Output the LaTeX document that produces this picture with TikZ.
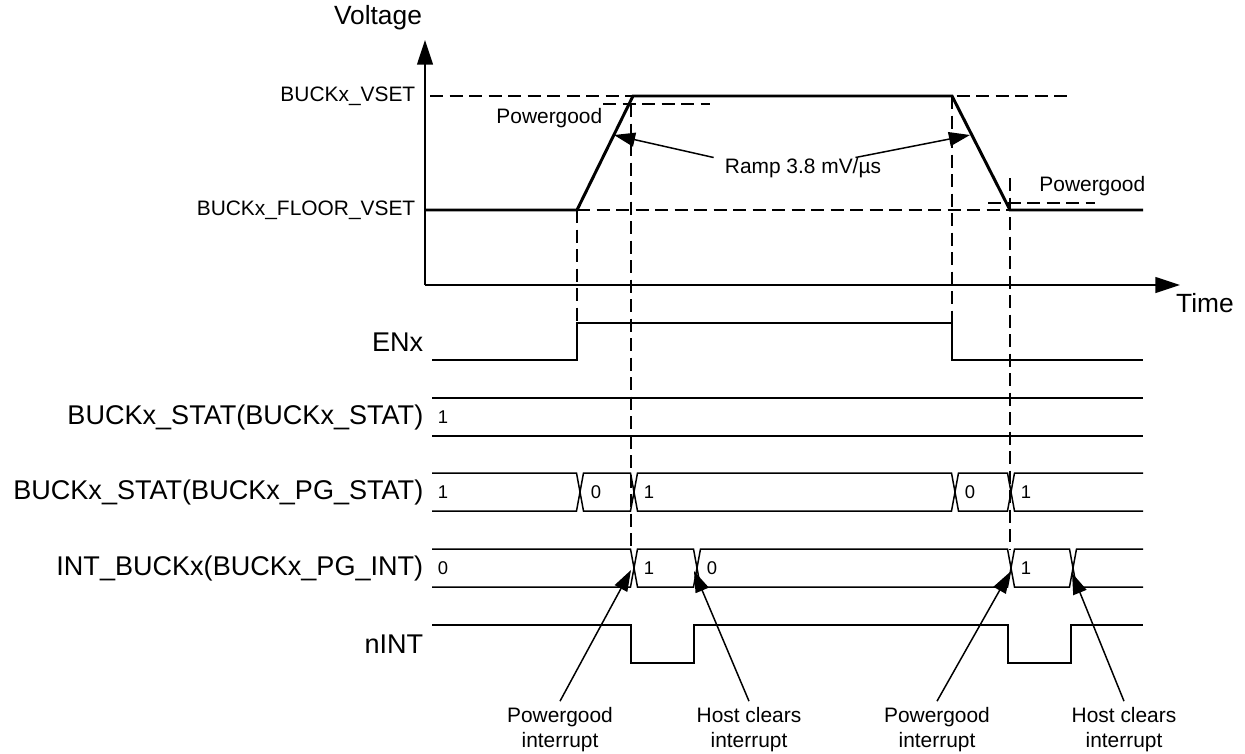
\documentclass[tikz,border=0pt]{standalone}
\usepackage{fontspec}
\setmainfont{Liberation Sans}
\usetikzlibrary{arrows.meta}

\begin{document}
\begin{tikzpicture}[x=0.02cm,y=-0.02cm,line width=0.85pt,
  axis/.style={-{Triangle[length=14pt,width=9pt]}},
  trace/.style={line width=1.7pt},
  guide/.style={dash pattern=on 7.5pt off 3.6pt},
  callout/.style={-{Triangle[length=12pt,width=8pt]}},
  bigtxt/.style={font=\fontsize{15}{18}\selectfont},
  smalltxt/.style={font=\fontsize{11.9}{14.2}\selectfont},
  sig/.style={font=\fontsize{15.4}{18}\selectfont,anchor=east,inner sep=0pt},
  lvl/.style={smalltxt,anchor=east,inner sep=0pt},
  bit/.style={font=\fontsize{10.5}{12}\selectfont,anchor=west,inner sep=0pt}]

\useasboundingbox (0,0) rectangle (1245,754);

%------------------------------------------------
% TOP: Output voltage
%------------------------------------------------
\node[bigtxt] (volt) at (378,18) {Voltage};
\node[bigtxt] (time) at (1205,303) {Time};

% Axes
\coordinate (orig) at (425,285);
\draw[axis] (orig) -- (425,40);
\draw[axis] (orig) -- (1180,285);

% Levels
\node[lvl] (vset) at (416,96) {BUCKx\_VSET};
\node[lvl] (vfloor) at (416,210) {BUCKx\_FLOOR\_VSET};
\draw[guide] (430,96) -- (1070,96);
\draw[guide] (577,210) -- (1010,210);

% Powergood thresholds
\draw[guide] (603,104) -- (710,104);
\draw[guide] (988,203) -- (1095,203);
\node[lvl] (pgup) at (603,118) {Powergood};
\node[lvl] (pgdown) at (1146,186) {Powergood};

% Time markers
\draw[guide] (577,210) -- (577,323);
\draw[guide] (631,104) -- (631,549);
\draw[guide] (952,96) -- (952,323);
\draw[guide] (1010,178) -- (1010,549);

% Voltage trace
\draw[trace] (425,210) -- (577,210) -- (633,96) -- (952,96) -- (1010,210) -- (1143,210);

% Ramp rate
\node[smalltxt,inner sep=0pt] (ramp) at (803,168) {Ramp 3.8 mV/µs};
\coordinate (rampup) at (614,135);
\coordinate (rampdown) at (970,135);
\draw[callout] ([xshift=-6]ramp.north west) -- (rampup);
\draw[callout] ([xshift=-15]ramp.north east) -- (rampdown);

%------------------------------------------------
% BOTTOM: Signals
%------------------------------------------------
% ENx
\node[sig] (en) at (424,342) {ENx};
\draw (432,360) -- (577,360) -- (577,323) -- (952,323) -- (952,360) -- (1143,360);

% BUCKx_STAT
\node[sig] (stat) at (424,417) {BUCKx\_STAT(BUCKx\_STAT)};
\draw (432,398) -- (1143,398) (432,436) -- (1143,436);
\node[bit] (stat1) at (437,417) {1};

% BUCKx_PG_STAT
\node[sig] (pgstat) at (424,492) {BUCKx\_STAT(BUCKx\_PG\_STAT)};
\draw (432,473) -- (576.5,473) -- (580,492) -- (576.5,511) -- (432,511);
\foreach \a/\b in {580/634,634/955,955/1011}
  \draw (\a,492) -- (\a+3.5,473) -- (\b-3.5,473) -- (\b,492) -- (\b-3.5,511) -- (\a+3.5,511) -- cycle;
\draw (1143,473) -- (1014.5,473) -- (1011,492) -- (1014.5,511) -- (1143,511);
\node[bit] (pgstata) at (437,492) {1};
\node[bit] (pgstatb) at (590,492) {0};
\node[bit] (pgstatc) at (643,492) {1};
\node[bit] (pgstatd) at (964,492) {0};
\node[bit] (pgstate) at (1020,492) {1};

% INT_BUCKx
\node[sig] (pgint) at (424,568) {INT\_BUCKx(BUCKx\_PG\_INT)};
\draw (432,549) -- (630.5,549) -- (634,568) -- (630.5,587) -- (432,587);
\foreach \a/\b in {634/697,697/1011,1011/1073}
  \draw (\a,568) -- (\a+3.5,549) -- (\b-3.5,549) -- (\b,568) -- (\b-3.5,587) -- (\a+3.5,587) -- cycle;
\draw (1143,549) -- (1076.5,549) -- (1073,568) -- (1076.5,587) -- (1143,587);
\node[bit] (pginta) at (437,568) {0};
\node[bit] (pgintb) at (643,568) {1};
\node[bit] (pgintc) at (706,568) {0};
\node[bit] (pgintd) at (1020,568) {1};

% nINT
\node[sig] (nint) at (424,644) {nINT};
\draw (432,625) -- (631,625) -- (631,663) -- (694,663) -- (694,625) -- (1008,625)
  -- (1008,663) -- (1071,663) -- (1071,625) -- (1143,625);

%------------------------------------------------
% Callouts
%------------------------------------------------
\coordinate (tipa) at (631,570);
\coordinate (tipb) at (694,571);
\coordinate (tipc) at (1010,572);
\coordinate (tipd) at (1072,573);

\node[smalltxt,align=center] (pgia) at (560,730) {Powergood\\interrupt};
\node[smalltxt,align=center] (hca) at (749,730) {Host clears\\interrupt};
\node[smalltxt,align=center] (pgib) at (937,730) {Powergood\\interrupt};
\node[smalltxt,align=center] (hcb) at (1124,730) {Host clears\\interrupt};

\draw[callout] (pgia.north) -- (tipa);
\draw[callout] (hca.north) -- (tipb);
\draw[callout] (pgib.north) -- (tipc);
\draw[callout] (hcb.north) -- (tipd);

\end{tikzpicture}
\end{document}
